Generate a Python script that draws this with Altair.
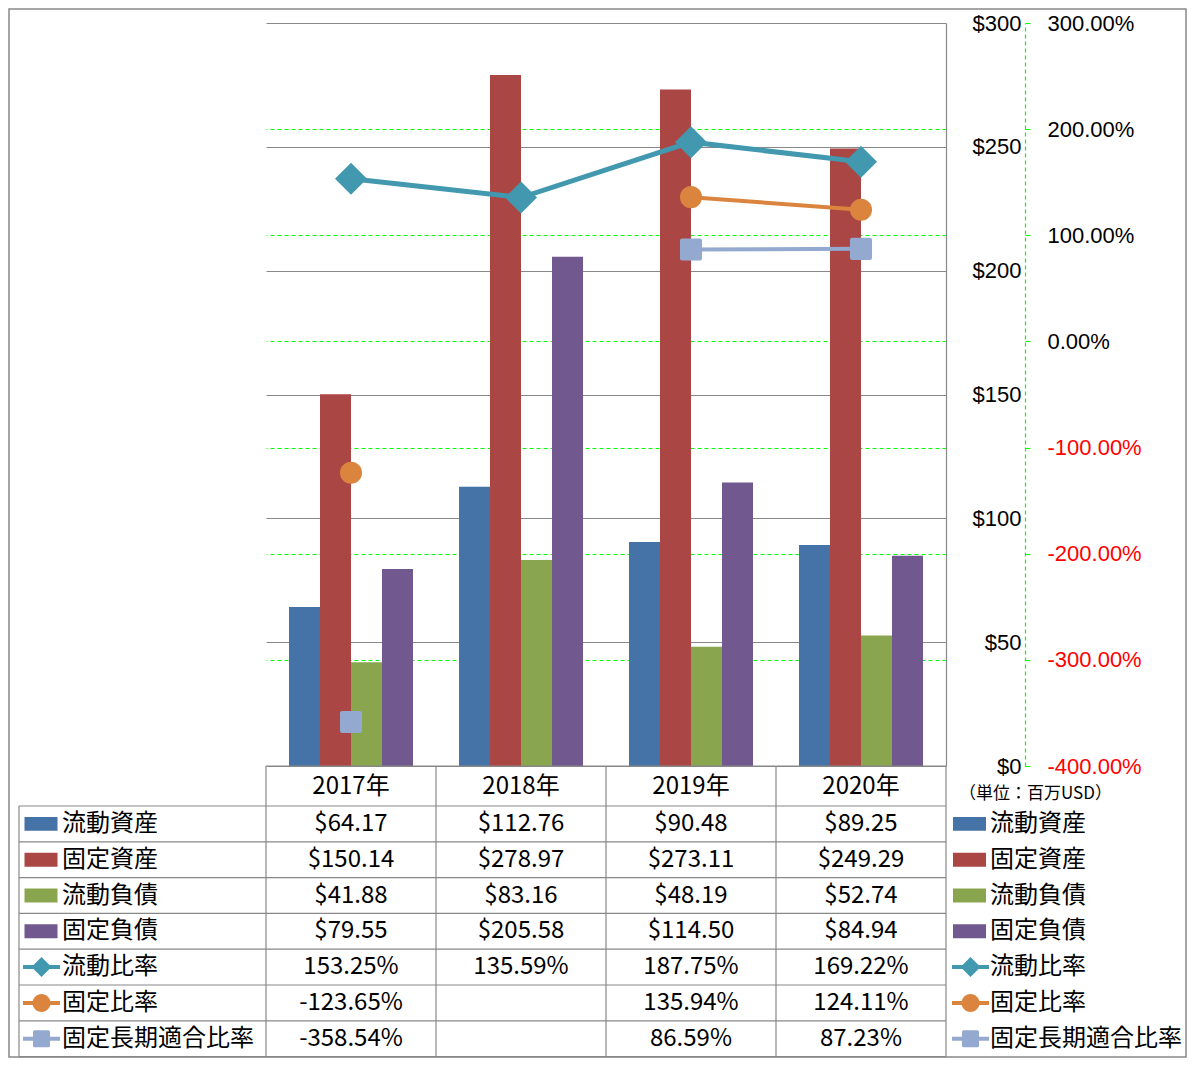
import altair as alt
import pandas as pd

# ---------------- data ----------------
years = ["2017年", "2018年", "2019年", "2020年"]
bar_series = ["流動資産", "固定資産", "流動負債", "固定負債"]
line_series = ["流動比率", "固定比率", "固定長期適合比率"]

current_assets = [64.17, 112.76, 90.48, 89.25]
fixed_assets = [150.14, 278.97, 273.11, 249.29]
current_liabilities = [41.88, 83.16, 48.19, 52.74]
fixed_liabilities = [79.55, 205.58, 114.50, 84.94]

current_ratio = [153.25, 135.59, 187.75, 169.22]
fixed_ratio = [-123.65, None, 135.94, 124.11]
fixed_long_term_ratio = [-358.54, None, 86.59, 87.23]

dollar_ticks = [0, 50, 100, 150, 200, 250, 300]
pct_ticks = [-400, -300, -200, -100, 0, 100, 200, 300]
unit_label = "（単位：百万USD）"

bar_colors = ["#4572A7", "#AA4643", "#89A54E", "#71588F"]
line_colors = ["#4198AF", "#DB843D", "#93A9CF"]

bar_values = [current_assets, fixed_assets, current_liabilities, fixed_liabilities]
line_values = [current_ratio, fixed_ratio, fixed_long_term_ratio]
all_series = bar_series + line_series

rows = []
for s, vals in zip(bar_series, bar_values):
    for y, v in zip(years, vals):
        rows.append({"year": y, "series": s, "value": v})
bars_df = pd.DataFrame(rows)

rows = []
for s, vals in zip(line_series, line_values):
    seg = 0
    for y, v in zip(years, vals):
        if v is None:
            seg += 1
            continue
        rows.append({"year": y, "series": s, "value": v, "seg": f"{s}-{seg}"})
lines_df = pd.DataFrame(rows)

rows = []
for i, (s, vals) in enumerate(zip(all_series, bar_values + line_values)):
    for y, v in zip(years, vals):
        if v is None:
            continue
        txt = f"${v:,.2f}" if i < len(bar_series) else f"{v:.2f}%"
        rows.append({"year": y, "series": s, "idx": i, "text": txt})
table_df = pd.DataFrame(rows)

legend_df = pd.DataFrame({"series": all_series, "idx": list(range(len(all_series)))})
legend_bar_df = legend_df[legend_df.idx < len(bar_series)]
legend_line_df = legend_df[legend_df.idx >= len(bar_series)]
years_df = pd.DataFrame({"year": years})
one_df = pd.DataFrame({"a": [0]})

# ---------------- layout ----------------
FONT = "Noto Sans CJK JP"
AXIS_FONT = "Liberation Sans"
GRAY = "#888888"
PAD_TOP = 15
W, H = 680, 743
HEADER = 40
ROW = 35.8
TT = H + HEADER
TB = TT + 7 * ROW
LEFT_EDGE = -247
P_IN = 46 / 170
P_OUT = 23 / 170
HALF_GAP = (W / 4) * P_IN / 2

x_scale = alt.Scale(domain=years, paddingInner=P_IN, paddingOuter=P_OUT)
y_dollar = alt.Scale(domain=[0, 300], nice=False, zero=True)
y_pct = alt.Scale(domain=[-400, 300], nice=False, zero=False)
y_row = alt.Scale(domain=[-0.5, 6.5], range=[TT, TB], nice=False, zero=False)
color_scale = alt.Scale(domain=all_series, range=bar_colors + line_colors)

X = alt.X("year:N", scale=x_scale, axis=None)
Xp = alt.X("year:N", axis=None)
Colour = alt.Color("series:N", scale=color_scale, legend=None)
Yrow = alt.Y("idx:Q", scale=y_row, axis=None)

DIAMOND = "M0,-1L1,0L0,1L-1,0Z"
CIRCLE = "M-0.69,0A0.69,0.69 0 1,0 0.69,0A0.69,0.69 0 1,0 -0.69,0Z"
RSQUARE = ("M-0.55,-0.69L0.55,-0.69Q0.69,-0.69 0.69,-0.55L0.69,0.55Q0.69,0.69 0.55,0.69"
           "L-0.55,0.69Q-0.69,0.69 -0.69,0.55L-0.69,-0.55Q-0.69,-0.69 -0.55,-0.69Z")
LDIAMOND = "M0,-1L1,0L0,1L-1,0Z"
LCIRCLE = "M-0.9,0A0.9,0.9 0 1,0 0.9,0A0.9,0.9 0 1,0 -0.9,0Z"
LSQUARE = ("M-0.7,-0.85L0.7,-0.85Q0.85,-0.85 0.85,-0.7L0.85,0.7Q0.85,0.85 0.7,0.85"
           "L-0.7,0.85Q-0.85,0.85 -0.85,0.7L-0.85,-0.7Q-0.85,-0.85 -0.7,-0.85Z")
RECT = "M-1,-0.42L1,-0.42L1,0.42L-1,0.42Z"

dollar_axis = alt.Axis(
    orient="right", values=dollar_ticks, labelExpr="'$' + datum.value",
    grid=True, gridColor=GRAY, gridWidth=1.2, domain=True, domainColor=GRAY,
    domainWidth=1.2, ticks=False, labelPadding=75, labelAlign="right",
    labelBaseline="middle", labelFontSize=22, labelFont=AXIS_FONT,
    labelColor="#000000", title=None)

pct_axis = alt.Axis(
    orient="right", offset=79, values=pct_ticks,
    labelExpr="(datum.value < 0 ? '-' : '') + format(abs(datum.value), '.2f') + '%'",
    grid=True, gridColor="#00FF00", gridDash=[4, 3], gridWidth=1,
    gridOpacity={"condition": {"test": "datum.value <= -400 || datum.value >= 300", "value": 0},
                 "value": 1},
    domain=True, domainColor="#00FF00", domainDash=[4, 3], domainWidth=1.2,
    ticks=True, tickColor="#00FF00", tickSize=5, labelPadding=17,
    labelAlign="left", labelBaseline="middle", labelFontSize=22, labelFont=AXIS_FONT,
    labelColor={"condition": {"test": "datum.value < 0", "value": "#FF0000"},
                "value": "#000000"},
    title=None)

# ---------------- layers ----------------
border = alt.Chart(one_df).mark_rect(fillOpacity=0, stroke=GRAY, strokeWidth=1.5).encode(
    x=alt.value(-257), x2=alt.value(W + 240), y=alt.value(-PAD_TOP + 1), y2=alt.value(TB + 0.5))

bars = alt.Chart(bars_df).mark_bar().encode(
    x=X,
    xOffset=alt.XOffset("series:N", scale=alt.Scale(domain=bar_series, paddingInner=0, paddingOuter=0)),
    y=alt.Y("value:Q", scale=y_dollar, axis=dollar_axis),
    color=Colour)

line_main = alt.Chart(lines_df).transform_filter(
    alt.datum.series == line_series[0]).mark_line(strokeWidth=5).encode(
    x=Xp, y=alt.Y("value:Q", scale=y_pct, axis=pct_axis), color=Colour, detail="seg:N")

line_other = alt.Chart(lines_df).transform_filter(
    alt.datum.series != line_series[0]).mark_line(strokeWidth=4).encode(
    x=Xp, y=alt.Y("value:Q", scale=y_pct, axis=None), color=Colour, detail="seg:N")

points = alt.Chart(lines_df).mark_point(filled=True, opacity=1, size=1024).encode(
    x=Xp, y=alt.Y("value:Q", scale=y_pct, axis=None), color=Colour,
    shape=alt.Shape("series:N", scale=alt.Scale(domain=line_series, range=[DIAMOND, CIRCLE, RSQUARE]), legend=None))

header = alt.Chart(years_df).mark_text(font=FONT, fontSize=24, color="#000000").encode(
    x=Xp, y=alt.value(H + HEADER / 2 + 1), text="year:N")

table_text = alt.Chart(table_df).mark_text(font=FONT, fontSize=24, color="#000000").encode(
    x=Xp, y=Yrow, text="text:N")

hlines = alt.Chart(pd.DataFrame({"b": [i - 0.5 for i in range(8)]})).mark_rule(
    color=GRAY, strokeWidth=1.2).encode(
    x=alt.value(LEFT_EDGE), x2=alt.value(W), y=alt.Y("b:Q", scale=y_row, axis=None))

header_top = alt.Chart(one_df).mark_rule(color=GRAY, strokeWidth=1.2).encode(
    x=alt.value(0), x2=alt.value(W), y=alt.value(H))

vlines = alt.Chart(years_df).mark_rule(color=GRAY, strokeWidth=1.2, xOffset=-HALF_GAP).encode(
    x=alt.X("year:N", axis=None, bandPosition=0), y=alt.value(H), y2=alt.value(TB))

right_vline = alt.Chart(one_df).mark_rule(color=GRAY, strokeWidth=1.2).encode(
    x=alt.value(W), y=alt.value(H), y2=alt.value(TB))

left_vline = alt.Chart(one_df).mark_rule(color=GRAY, strokeWidth=1.2).encode(
    x=alt.value(LEFT_EDGE), y=alt.value(TT), y2=alt.value(TB))

unit = alt.Chart(one_df).mark_text(font=FONT, fontSize=17, align="left", color="#000000").encode(
    x=alt.value(693), y=alt.value(H + 28), text=alt.value(unit_label))


def legend_layers(sw_x, l1, l2, tx):
    sw = alt.Chart(legend_bar_df).mark_point(shape=RECT, filled=True, opacity=1, size=33 * 33).encode(
        x=alt.value(sw_x), y=Yrow, color=Colour)
    ln = alt.Chart(legend_line_df).mark_rule(strokeWidth=4).encode(
        x=alt.value(l1), x2=alt.value(l2), y=Yrow, color=Colour)
    mk = alt.Chart(legend_line_df).mark_point(filled=True, opacity=1, size=400).encode(
        x=alt.value((l1 + l2) / 2), y=Yrow, color=Colour,
        shape=alt.Shape("series:N", scale=alt.Scale(domain=line_series, range=[LDIAMOND, LCIRCLE, LSQUARE]), legend=None))
    tt = alt.Chart(legend_df).mark_text(font=FONT, fontSize=24, align="left", color="#000000").encode(
        x=alt.value(tx), y=Yrow, text="series:N")
    return [sw, ln, mk, tt]


layers = [border, bars, line_main, line_other, points, header, table_text,
          hlines, header_top, vlines, right_vline, left_vline, unit]
layers += legend_layers(-225, -243, -206, -204)
layers += legend_layers(703.5, 686, 723, 724)

chart = alt.layer(*layers).resolve_scale(
    y="independent", shape="independent"
).properties(
    width=W, height=H,
    autosize=alt.AutoSizeParams(type="none"),
    padding={"left": 258, "top": PAD_TOP, "right": 242, "bottom": int(TB - H + 3)},
).configure_view(strokeWidth=0).configure_text(font=FONT)

chart.save("out.html", embed_options={"renderer": "svg", "actions": False})
